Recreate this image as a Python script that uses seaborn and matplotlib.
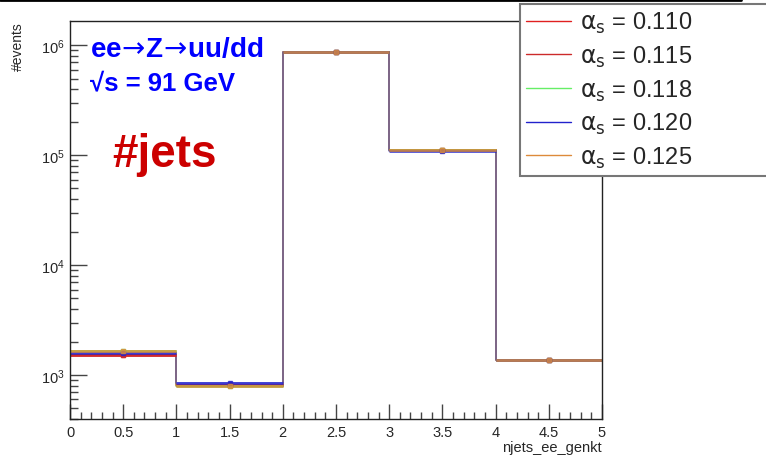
import numpy as np
import pandas as pd
import matplotlib
matplotlib.use("Agg")
import matplotlib.pyplot as plt
from matplotlib.lines import Line2D
from matplotlib.ticker import MultipleLocator, LogLocator, NullFormatter
import seaborn as sns

# njets histogram, one curve per alpha_s value
edges = [0, 1, 2, 3, 4, 5]
alphas = ["0.110", "0.115", "0.118", "0.120", "0.125"]
counts_110 = [1520, 811, 877000, 111000, 1378]
counts_115 = [1520, 811, 877000, 111000, 1378]
counts_118 = [1652, 790, 877000, 111000, 1378]
counts_120 = [1585, 855, 877000, 109000, 1378]
counts_125 = [1652, 800, 877000, 111000, 1378]
colours = ["#e02020", "#cc2a2a", "#66ee66", "#2222cc", "#dd8a3a"]

all_counts = [counts_110, counts_115, counts_118, counts_120, counts_125]
centers = [(a + b) / 2 for a, b in zip(edges[:-1], edges[1:])]

sns.set_style("ticks")
plt.rcParams["font.family"] = ["Liberation Sans", "DejaVu Sans"]
plt.rcParams["mathtext.fontset"] = "dejavusans"

fig = plt.figure(figsize=(7.66, 4.56), dpi=100)
ax = fig.add_axes([0.0914, 0.0789, 0.6945, 0.8729])

pal = dict(zip(alphas, colours))

# thin step outlines, blue last so its verticals show
step_order = [0, 1, 2, 4, 3]
for i in step_order:
    d = pd.DataFrame({"njets": centers, "n": all_counts[i]})
    sns.histplot(data=d, x="njets", weights="n", bins=edges, element="step",
                 fill=False, color=colours[i], linewidth=1.2, alpha=0.5, ax=ax)

# bin contents with errors, orange on top
for a, c in zip(alphas, all_counts):
    c = np.array(c, dtype=float)
    ax.errorbar(centers, c, xerr=0.5, yerr=np.sqrt(c), fmt="s", ms=3,
                color=pal[a], elinewidth=2, capsize=0, alpha=0.8)

ax.set_yscale("log")
ax.set_xlim(0, 5)
ax.set_ylim(398, 1.67e6)

ax.xaxis.set_minor_locator(MultipleLocator(0.1))
ax.yaxis.set_major_locator(LogLocator(base=10))
ax.yaxis.set_minor_locator(LogLocator(base=10, subs=np.arange(2, 10)))
ax.yaxis.set_minor_formatter(NullFormatter())
ax.set_xticks(np.arange(0, 5.01, 0.5))
ax.set_xticklabels(["0", "0.5", "1", "1.5", "2", "2.5", "3", "3.5", "4", "4.5", "5"])

ax.tick_params(axis="both", which="major", direction="in", length=12, width=1,
               color="#444444", labelsize=10.5, pad=4)
ax.tick_params(axis="both", which="minor", direction="in", length=6, width=1,
               color="#444444")
ax.tick_params(axis="x", which="major", length=11)
ax.tick_params(axis="x", which="minor", length=5)
for s in ax.spines.values():
    s.set_linewidth(1)
    s.set_color("#222222")

ax.set_ylabel("#events", loc="top", fontsize=10)
ax.set_xlabel("njets_ee_genkt", loc="right", fontsize=10.5, labelpad=1)
ax.yaxis.set_label_coords(-0.085, 1.0)

ax.text(0.037, 0.912, r"ee$\!\rightarrow\!$Z$\!\rightarrow\!$uu/dd",
        transform=ax.transAxes, color="#0000ff", fontsize=20, fontweight="bold")
ax.text(0.037, 0.829, "\u221as = 91 GeV", transform=ax.transAxes,
        color="#0000ff", fontsize=18.5, fontweight="bold")
ax.text(0.079, 0.636, "#jets", transform=ax.transAxes,
        color="#cc0000", fontsize=33, fontweight="bold")

handles = [Line2D([], [], color=c, lw=1) for c in colours]
labels = [r"$\mathrm{\alpha_{s}}$ = " + a for a in alphas]
leg = fig.legend(handles, labels, loc="upper left",
                 bbox_to_anchor=(0.679, 0.621, 0.34, 0.368), mode="expand",
                 frameon=True, fancybox=False, fontsize=17, handlelength=1.9,
                 handletextpad=0.4, borderaxespad=0, labelspacing=0.36,
                 borderpad=0.25)
leg.get_frame().set_edgecolor("#777777")
leg.get_frame().set_linewidth(1.5)
leg.get_frame().set_alpha(1)

fig.add_artist(Line2D([0, 0.967], [0.998, 0.998], transform=fig.transFigure,
                      color="black", lw=2))

fig.savefig("out.png", dpi=100)
